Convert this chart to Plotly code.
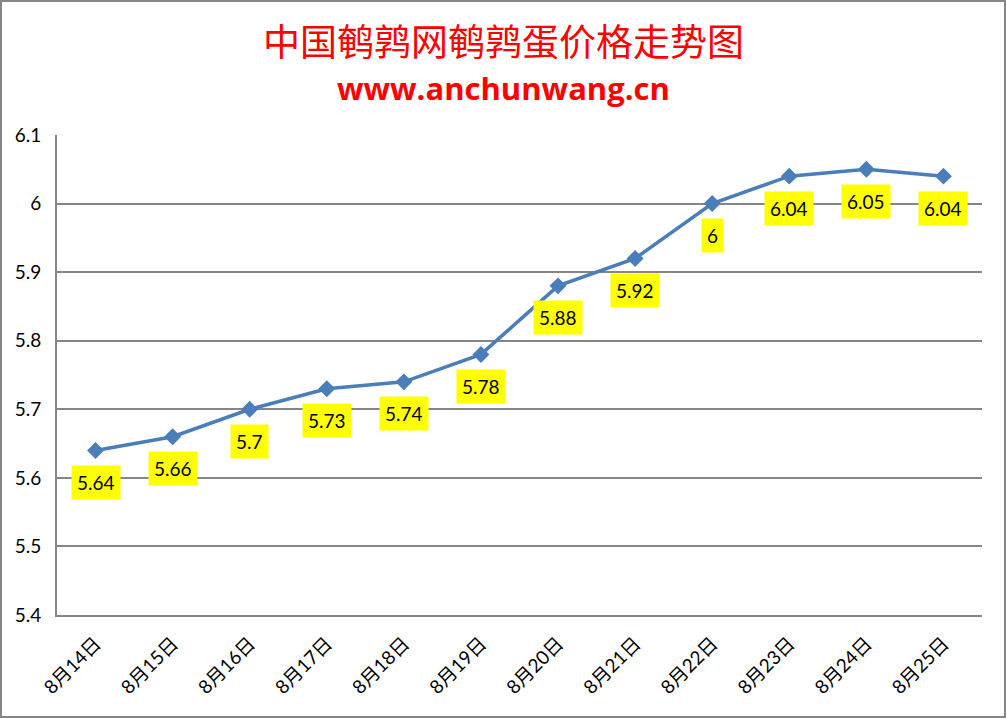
import plotly.graph_objects as go

dates = ["8月14日", "8月15日", "8月16日", "8月17日", "8月18日", "8月19日",
         "8月20日", "8月21日", "8月22日", "8月23日", "8月24日", "8月25日"]
prices = [5.64, 5.66, 5.70, 5.73, 5.74, 5.78, 5.88, 5.92, 6.00, 6.04, 6.05, 6.04]
price_labels = ["5.64", "5.66", "5.7", "5.73", "5.74", "5.78", "5.88", "5.92", "6", "6.04", "6.05", "6.04"]
y_tickvals = [5.4, 5.5, 5.6, 5.7, 5.8, 5.9, 6.0, 6.1]
y_ticktext = ["5.4", "5.5", "5.6", "5.7", "5.8", "5.9", "6", "6.1"]

W, H = 1007, 719
ML, MR, MT, MB = 57, 25, 135, 104
PW, PH = W - ML - MR, H - MT - MB
FONT = "Lato, 'Noto Sans CJK SC', sans-serif"

fig = go.Figure()
fig.add_trace(go.Scatter(
    x=dates, y=prices, mode="lines+markers",
    line=dict(color="#4A7EBB", width=3.5),
    marker=dict(symbol="diamond", size=13, color="#4A7EBB"),
    hoverinfo="x+y", showlegend=False,
))

for d, p, t in zip(dates, prices, price_labels):
    fig.add_annotation(
        x=d, y=p, text=t, showarrow=False, yshift=-32,
        bgcolor="#FFFF00", font=dict(family=FONT, size=19, color="#000000"),
        borderpad=5,
    )

fig.add_annotation(
    xref="paper", yref="paper", x=(W / 2 - ML) / PW, y=(H - MB - 40) / PH,
    text="中国鹌鹑网鹌鹑蛋价格走势图", showarrow=False,
    font=dict(family="'Noto Sans CJK SC', sans-serif", size=37, color="#FF0000"),
    xanchor="center", yanchor="middle",
)
fig.add_annotation(
    xref="paper", yref="paper", x=(W / 2 - ML) / PW, y=(H - MB - 88) / PH,
    text="<b>www.anchunwang.cn</b>", showarrow=False,
    font=dict(family="'Open Sans', sans-serif", size=31, color="#FF0000"),
    xanchor="center", yanchor="middle",
)

# outer chart border
fig.add_shape(
    type="rect", xref="paper", yref="paper", layer="above",
    x0=(1 - ML) / PW, x1=(W - 2 - ML) / PW,
    y0=(H - MB - (H - 2)) / PH, y1=(H - MB - 1) / PH,
    line=dict(color="#868686", width=2), fillcolor="rgba(0,0,0,0)",
)

fig.update_xaxes(
    range=[-0.5, len(dates) - 0.5], tickangle=-45,
    tickfont=dict(family=FONT, size=19, color="#000000"),
    showgrid=False, showline=True, linecolor="#868686", linewidth=2,
    ticks="", zeroline=False, ticklabelstandoff=8,
)
fig.update_yaxes(
    range=[5.4, 6.1], tickvals=y_tickvals, ticktext=y_ticktext,
    tickfont=dict(family=FONT, size=19, color="#000000"),
    showgrid=True, gridcolor="#868686", gridwidth=2,
    showline=True, linecolor="#868686", linewidth=2,
    ticks="", zeroline=False, ticklabelstandoff=10,
)
fig.update_layout(
    width=W, height=H, margin=dict(l=ML, r=MR, t=MT, b=MB),
    paper_bgcolor="#FFFFFF", plot_bgcolor="#FFFFFF",
    font=dict(family=FONT),
)
fig.write_html(
    "out.html",
    config={"displayModeBar": False},
    post_script="document.body.style.margin='0';document.body.style.padding='0';",
)
